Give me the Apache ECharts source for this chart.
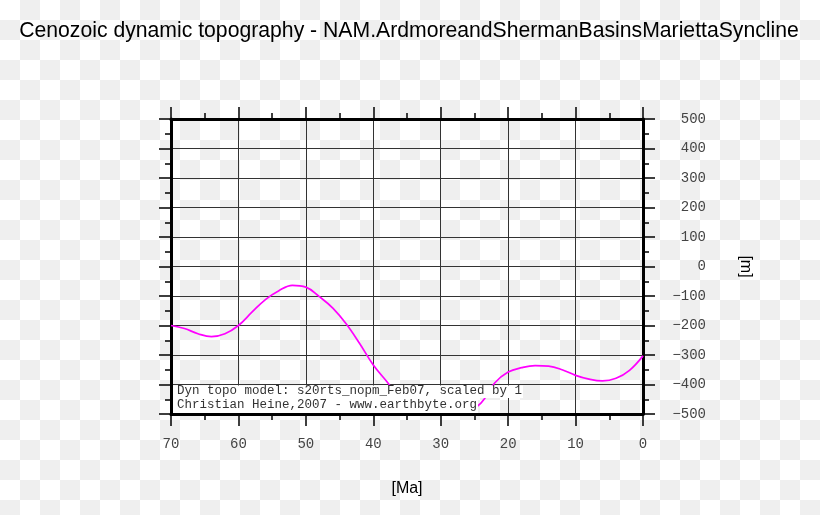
<!DOCTYPE html>
<html>
<head>
<meta charset="utf-8">
<script src="https://cdn.jsdelivr.net/npm/echarts@6/dist/echarts.min.js"></script>
<style>
  html, body { margin: 0; padding: 0; }
  body {
    background-color: #fff;
    background-image: conic-gradient(#efefef 0 25%, #fff 0 50%, #efefef 0 75%, #fff 0);
    background-size: 40px 40px;
  }
  #chart { width: 820px; height: 515px; }
</style>
</head>
<body>
<div id="chart"></div>
<script>
// ---- data ----
var titleText = 'Cenozoic dynamic topography - NAM.ArdmoreandShermanBasinsMariettaSyncline';
var xName = '[Ma]';
var yName = '[m]';
var ages = [70, 68, 66, 64, 62, 60, 58, 56, 54, 52, 50, 48, 46, 44, 42, 40, 38, 36, 34, 32, 30, 28, 26, 24, 22, 20, 18, 16, 14, 12, 10, 8, 6, 4, 2, 0];
var topo = [-200, -210, -228, -238, -228, -200, -155, -112, -82, -64, -70, -102, -141, -195, -262, -334, -390, -448, -482, -490, -490, -490, -488, -462, -395, -358, -343, -336, -338, -350, -369, -382, -388, -379, -352, -303];
var noteLines = ['Dyn topo model: s20rts_nopm_Feb07, scaled by 1', 'Christian Heine,2007 - www.earthbyte.org'];

var points = ages.map(function (a, i) { return [a, topo[i]]; });

var monoFont = '"Liberation Mono", "DejaVu Sans Mono", monospace';
var sansFont = '"Liberation Sans", Arial, sans-serif';

function axisCommon(extra) {
  var base = {
    type: 'value',
    axisLine: { show: true, onZero: false, lineStyle: { color: '#000', width: 3 } },
    axisTick: { show: true, inside: false, length: 12, lineStyle: { color: '#000', width: 1.5 } },
    minorTick: { show: true, splitNumber: 2, length: 6, lineStyle: { color: '#000', width: 1.5 } },
    splitLine: { show: false },
    axisLabel: { show: false }
  };
  for (var k in extra) base[k] = extra[k];
  return base;
}

function minusFmt(v) { return String(v).replace('-', '\u2212'); }

var chart = echarts.init(document.getElementById('chart'), null, { renderer: 'canvas' });
chart.setOption({
  backgroundColor: 'transparent',
  animation: false,
  title: {
    text: titleText,
    left: 409,
    textAlign: 'center',
    top: 21,
    padding: 0,
    textStyle: { fontFamily: sansFont, fontSize: 21.2, fontWeight: 'normal', color: '#000' }
  },
  grid: { left: 171, right: 177, top: 119, bottom: 101, containLabel: false },
  xAxis: [
    axisCommon({
      position: 'bottom', min: 0, max: 70, interval: 10, inverse: true,
      name: xName, nameLocation: 'middle', nameGap: 67,
      nameTextStyle: { fontFamily: sansFont, fontSize: 16, color: '#000' },
      splitLine: { show: true, lineStyle: { color: '#333', width: 1 } },
      axisLabel: { show: true, margin: 23, fontFamily: monoFont, fontSize: 14, color: '#444', formatter: minusFmt }
    }),
    axisCommon({ position: 'top', min: 0, max: 70, interval: 10, inverse: true })
  ],
  yAxis: [
    axisCommon({
      position: 'right', min: -500, max: 500, interval: 100,
      name: yName, nameLocation: 'middle', nameGap: 94, nameRotate: -90,
      nameTextStyle: { fontFamily: sansFont, fontSize: 16, color: '#000' },
      splitLine: { show: true, lineStyle: { color: '#333', width: 1 } },
      axisLabel: { show: true, margin: 63, align: 'right', fontFamily: monoFont, fontSize: 14, color: '#444', formatter: minusFmt }
    }),
    axisCommon({ position: 'left', min: -500, max: 500, interval: 100 })
  ],
  series: [{
    type: 'line',
    data: points,
    xAxisIndex: 0,
    yAxisIndex: 0,
    smooth: 0.4,
    showSymbol: false,
    symbol: 'none',
    clip: true,
    lineStyle: { color: '#ff00ff', width: 1.7 },
    z: 3
  }],
  graphic: [
    { type: 'rect', z: 100, shape: { x: 173, y: 385.5, width: 350, height: 12.5 }, style: { fill: '#fff' } },
    { type: 'rect', z: 100, shape: { x: 173, y: 398, width: 305, height: 15 }, style: { fill: '#fff' } },
    { type: 'text', z: 101, x: 177, y: 391, style: { text: noteLines[0], font: '12.5px ' + monoFont, fill: '#333', verticalAlign: 'middle', align: 'left' } },
    { type: 'text', z: 101, x: 177, y: 405, style: { text: noteLines[1], font: '12.5px ' + monoFont, fill: '#333', verticalAlign: 'middle', align: 'left' } }
  ]
});
</script>
</body>
</html>
